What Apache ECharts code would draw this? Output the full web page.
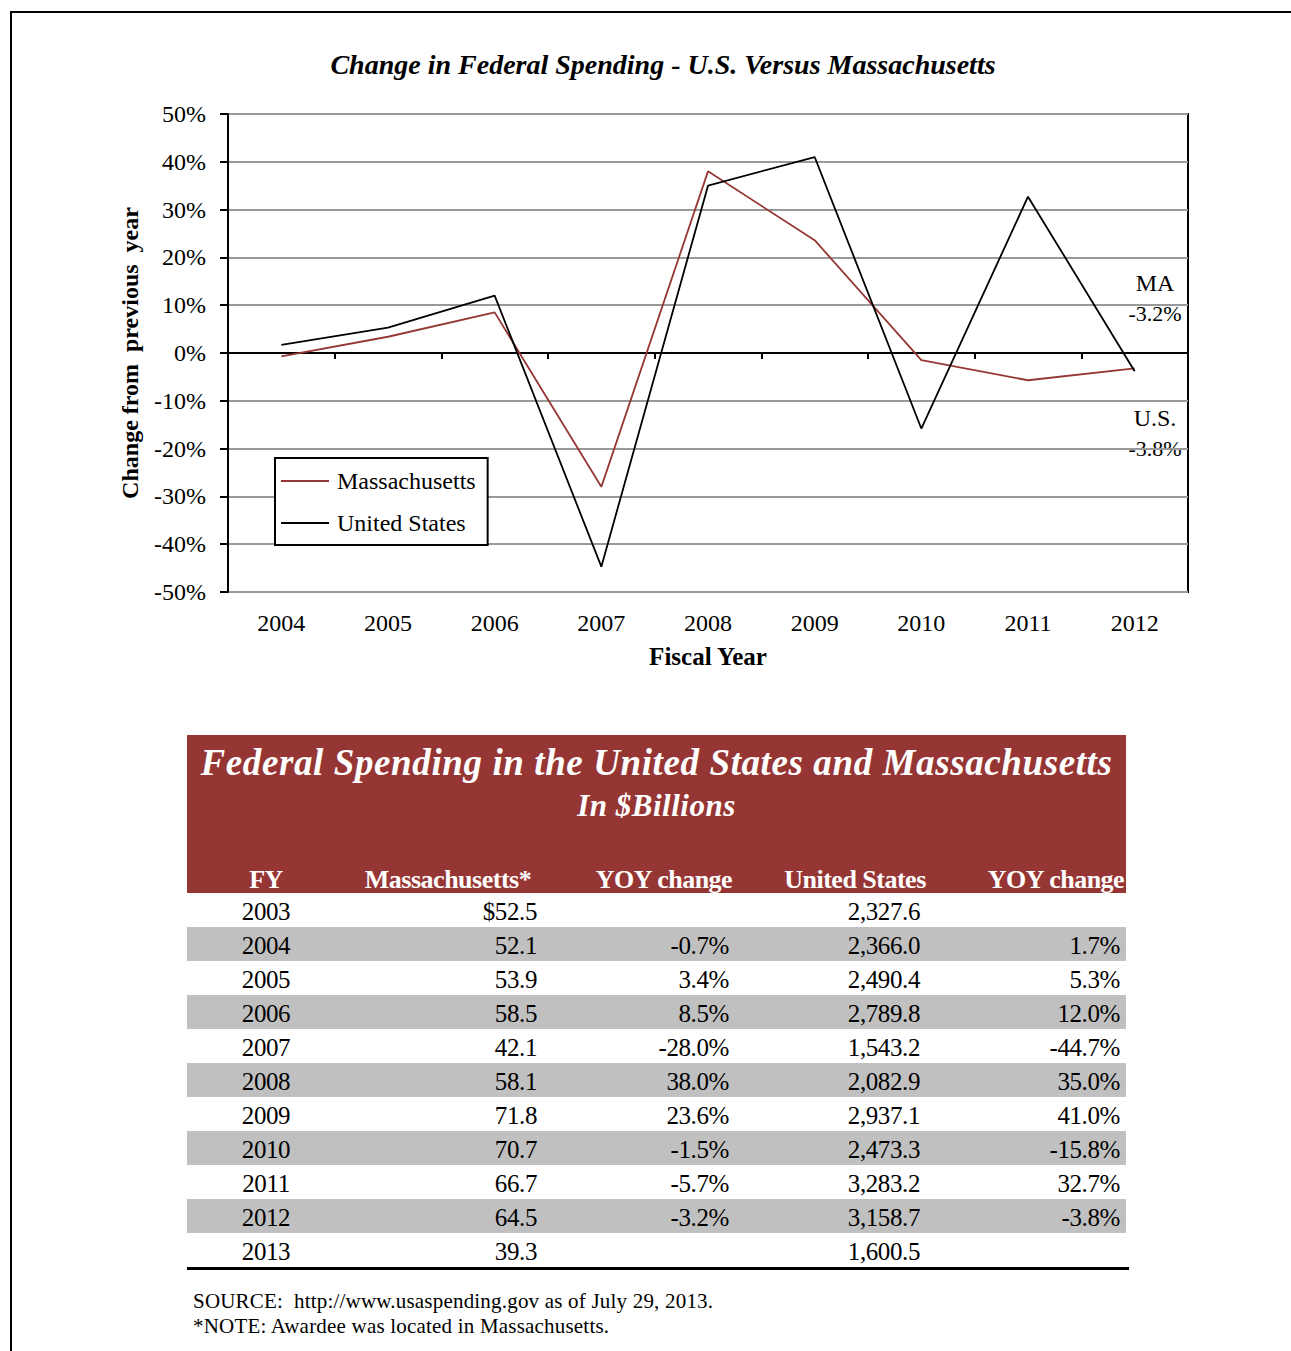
<!DOCTYPE html>
<html>
<head>
<meta charset="utf-8">
<script src="https://cdn.jsdelivr.net/npm/echarts@6/dist/echarts.min.js"></script>
<style>
  html, body { margin:0; padding:0; background:#fff; }
  body { width:1291px; height:1351px; position:relative; overflow:hidden; font-family:"Liberation Serif","Times New Roman",serif; }
  #frame { position:absolute; left:10px; top:11px; width:1300px; height:1400px; border-top:2px solid #000; border-left:2px solid #000; }
  #chart { position:absolute; left:0; top:0; width:1291px; height:700px; }
  #tbl { position:absolute; left:187px; top:735px; width:939px; }
  #tbl .head { background:#963634; color:#fff; height:158px; position:relative; }
  #tbl .t1 { position:absolute; left:0; right:0; top:6px; text-align:center; font-weight:bold; font-style:italic; font-size:37px; letter-spacing:0.6px; }
  #tbl .t2 { position:absolute; left:0; right:0; top:53px; text-align:center; font-weight:bold; font-style:italic; font-size:31px; letter-spacing:0.5px; }
  #tbl .cols { position:absolute; left:0; right:0; top:130px; height:30px; font-weight:bold; font-size:26px; }
  #tbl .cols span { position:absolute; top:0; white-space:nowrap; letter-spacing:-0.5px; }
  .row { position:relative; height:34px; font-size:25px; letter-spacing:-0.4px; }
  .row.g { background:#c0c0c0; }
  .row span { position:absolute; top:5px; white-space:nowrap; }
  #bottomline { height:0; border-top:3px solid #000; width:942px; margin-top:0; }
  #notes { position:absolute; left:193px; top:1289px; font-size:21px; line-height:25px; letter-spacing:0.2px; }
</style>
</head>
<body>
<div id="frame"></div>
<div id="chart"></div>
<div id="tbl"></div>
<div id="notes">SOURCE:&nbsp; http://www.usaspending.gov as of July 29, 2013.<br>*NOTE: Awardee was located in Massachusetts.</div>
<script>
// ---- chart data ----
const years = ['2004','2005','2006','2007','2008','2009','2010','2011','2012'];
const maChange = [-0.7, 3.4, 8.5, -28.0, 38.0, 23.6, -1.5, -5.7, -3.2];
const usChange = [1.7, 5.3, 12.0, -44.7, 35.0, 41.0, -15.8, 32.7, -3.8];

// ---- table data ----
const tableYears = ['2003','2004','2005','2006','2007','2008','2009','2010','2011','2012','2013'];
const tableMA = ['$52.5','52.1','53.9','58.5','42.1','58.1','71.8','70.7','66.7','64.5','39.3'];
const tableMAYoy = ['','-0.7%','3.4%','8.5%','-28.0%','38.0%','23.6%','-1.5%','-5.7%','-3.2%',''];
const tableUS = ['2,327.6','2,366.0','2,490.4','2,789.8','1,543.2','2,082.9','2,937.1','2,473.3','3,283.2','3,158.7','1,600.5'];
const tableUSYoy = ['','1.7%','5.3%','12.0%','-44.7%','35.0%','41.0%','-15.8%','32.7%','-3.8%',''];
const tableHeaders = ['FY','Massachusetts*','YOY change','United States','YOY change'];

const FONT = '"Liberation Serif","Times New Roman",serif';
const LINE_ICON = 'path://M0,0L48,0L48,2L0,2Z';
const chart = echarts.init(document.getElementById('chart'), null, {renderer:'svg'});
chart.setOption({
  animation:false,
  title:{ text:'Change in Federal Spending - U.S. Versus Massachusetts', left:658, textAlign:'center', top:45,
    textStyle:{ fontFamily:FONT, fontSize:28, fontWeight:'bold', fontStyle:'italic', color:'#000' } },
  grid:{ left:228, top:114, width:960, height:478, show:true, borderColor:'#000', borderWidth:2, backgroundColor:'transparent' },
  legend:{ orient:'vertical', left:275, top:458, padding:[11,12,10,6], itemGap:18,
    backgroundColor:'#fff', borderColor:'#000', borderWidth:2, borderRadius:0,
    itemWidth:50, itemHeight:2,
    textStyle:{ fontFamily:FONT, fontSize:24, color:'#000', padding:[0,0,0,2] },
    data:[{name:'Massachusetts', icon:LINE_ICON},{name:'United States', icon:LINE_ICON}] },
  xAxis:[
    { type:'category', data:years, boundaryGap:true, position:'bottom',
      axisLine:{ show:false, onZero:false }, axisTick:{ show:false }, splitLine:{show:false},
      axisLabel:{ fontFamily:FONT, fontSize:24, color:'#000', margin:19 },
      name:'Fiscal Year', nameLocation:'middle', nameGap:52,
      nameTextStyle:{ fontFamily:FONT, fontSize:25, fontWeight:'bold', color:'#000' } },
    { type:'category', data:years, boundaryGap:true, position:'bottom',
      axisLine:{ show:true, onZero:true, lineStyle:{ color:'#000', width:2 } },
      axisTick:{ show:true, length:6, lineStyle:{ color:'#000', width:2 } },
      axisLabel:{ show:false }, splitLine:{show:false} }
  ],
  yAxis:{ type:'value', min:-50, max:50, interval:10,
    axisLine:{ show:true, lineStyle:{ color:'#000', width:2 } },
    axisTick:{ show:true, length:8, lineStyle:{ color:'#000', width:2 } },
    axisLabel:{ fontFamily:FONT, fontSize:24, color:'#000', margin:22, formatter:'{value}%' },
    splitLine:{ show:true, lineStyle:{ color:'#999', width:2 } },
    name:'Change from  previous  year', nameLocation:'middle', nameGap:86,
    nameTextStyle:{ fontFamily:FONT, fontSize:24, fontWeight:'bold', color:'#000' } },
  series:[
    { name:'Massachusetts', type:'line', data:maChange, symbol:'none', z:3,
      lineStyle:{ color:'#953735', width:1.8 }, itemStyle:{ color:'#953735' } },
    { name:'United States', type:'line', data:usChange, symbol:'none', z:4,
      lineStyle:{ color:'#000', width:1.8 }, itemStyle:{ color:'#000' } }
  ],
  graphic:[
    { type:'text', x:1155, y:271, style:{ text:'MA', fill:'#000', font:'24px '+FONT, textAlign:'center' } },
    { type:'text', x:1155, y:302, style:{ text:'-3.2%', fill:'#000', font:'22px '+FONT, textAlign:'center' } },
    { type:'text', x:1155, y:406, style:{ text:'U.S.', fill:'#000', font:'24px '+FONT, textAlign:'center' } },
    { type:'text', x:1155, y:437, style:{ text:'-3.8%', fill:'#000', font:'22px '+FONT, textAlign:'center' } }
  ]
});

// ---- table ----
const tbl = document.getElementById('tbl');
let html = '<div class="head"><div class="t1">Federal Spending in the United States and Massachusetts</div>' +
  '<div class="t2">In $Billions</div><div class="cols">';
const headCenters = [79, 261, 477, 668, 869];
tableHeaders.forEach((h,i)=>{
  html += '<span style="left:'+headCenters[i]+'px;transform:translateX(-50%)">'+h+'</span>';
});
html += '</div></div>';
const rightEdges = [null, 537-187, 729-187, 920-187, 1120-187];
tableYears.forEach((y,i)=>{
  const vals = [y, tableMA[i], tableMAYoy[i], tableUS[i], tableUSYoy[i]];
  html += '<div class="row'+(i%2===1?' g':'')+'">';
  vals.forEach((v,j)=>{
    if (j===0) html += '<span style="left:79px;transform:translateX(-50%)">'+v+'</span>';
    else html += '<span style="right:'+(939-rightEdges[j])+'px">'+v+'</span>';
  });
  html += '</div>';
});
html += '<div id="bottomline"></div>';
tbl.innerHTML = html;
</script>
</body>
</html>
